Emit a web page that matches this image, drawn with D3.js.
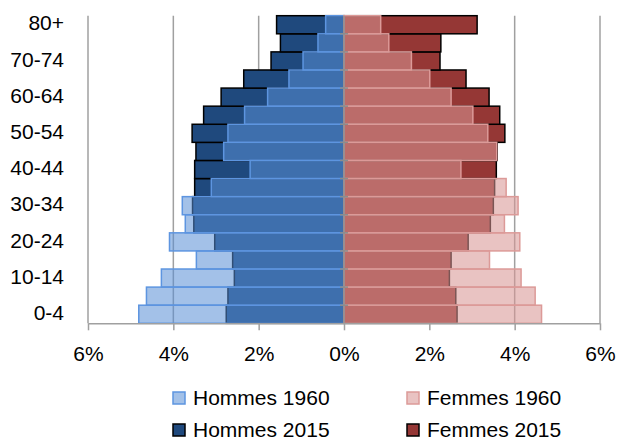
<!DOCTYPE html>
<html>
<head>
<meta charset="utf-8">
<script src="https://cdn.jsdelivr.net/npm/d3@7"></script>
<style>
  body { margin: 0; background: #fff; }
  text { font-family: "Liberation Sans", Arial, sans-serif; fill: #000; }
</style>
</head>
<body>
<div id="chart"></div>
<script>
// age groups, bottom to top
const ages = ["0-4", "5-9", "10-14", "15-19", "20-24", "25-29", "30-34", "35-39",
  "40-44", "45-49", "50-54", "55-59", "60-64", "65-69", "70-74", "75-79", "80+"];

// share of total population, in %
const hommes1960 = [4.81, 4.63, 4.28, 3.46, 4.09, 3.72, 3.79, 3.11, 2.20, 2.82, 2.72, 2.33, 1.79, 1.29, 0.96, 0.61, 0.43];
const hommes2015 = [2.76, 2.72, 2.57, 2.61, 3.03, 3.52, 3.55, 3.50, 3.50, 3.47, 3.56, 3.29, 2.88, 2.35, 1.71, 1.49, 1.58];
const femmes1960 = [4.63, 4.48, 4.15, 3.41, 4.12, 3.76, 4.08, 3.80, 2.74, 3.58, 3.37, 3.02, 2.51, 2.01, 1.58, 1.05, 0.86];
const femmes2015 = [2.65, 2.62, 2.47, 2.51, 2.91, 3.43, 3.50, 3.53, 3.57, 3.59, 3.77, 3.65, 3.40, 2.86, 2.25, 2.27, 3.12];

const xTicks = [-6, -4, -2, 0, 2, 4, 6];

const width = 617;
const height = 439;

const svg = d3.select("#chart")
  .append("svg")
  .attr("width", width)
  .attr("height", height);

const x = d3.scaleLinear().domain([-6, 6]).range([88, 600]);
const y = d3.scaleBand().domain(ages.slice().reverse()).range([15.7, 323.3]).padding(0);

// vertical grid lines
svg.append("g")
  .selectAll("line")
  .data(xTicks.filter(d => d !== 0))
  .enter()
  .append("line")
  .attr("x1", d => x(d))
  .attr("x2", d => x(d))
  .attr("y1", y.range()[0])
  .attr("y2", y.range()[1])
  .attr("stroke", "#a0a0a0")
  .attr("stroke-width", 1.5);

// one series of bars; side -1 = men (left), 1 = women (right)
function drawBars(values, side, fill, stroke, opacity) {
  svg.append("g")
    .selectAll("rect")
    .data(values)
    .enter()
    .append("rect")
    .attr("x", d => side < 0 ? x(-d) : x(0))
    .attr("y", (d, i) => y(ages[i]))
    .attr("width", d => x(d) - x(0))
    .attr("height", y.bandwidth())
    .attr("fill", fill)
    .attr("fill-opacity", opacity)
    .attr("stroke", stroke)
    .attr("stroke-width", 1.5);
}

// 2015 first (opaque), 1960 on top (see-through)
drawBars(hommes2015, -1, "#1f497d", "#000", 1);
drawBars(femmes2015, 1, "#953735", "#000", 1);
drawBars(hommes1960, -1, "rgb(88,142,213)", "#5d95e0", 0.55);
drawBars(femmes1960, 1, "rgb(216,150,148)", "#dc9a98", 0.57);

// centre axis with ticks between the age groups
const centre = svg.append("g");
centre.append("line")
  .attr("x1", x(0)).attr("x2", x(0))
  .attr("y1", y.range()[0]).attr("y2", y.range()[1])
  .attr("stroke", "#8c8c8c")
  .attr("stroke-width", 1.5);
centre.selectAll(".tk")
  .data(ages.slice(0, -1))
  .enter()
  .append("line")
  .attr("x1", x(0) - 4).attr("x2", x(0) + 4)
  .attr("y1", d => y(d)).attr("y2", d => y(d))
  .attr("stroke", "#8c8c8c")
  .attr("stroke-width", 1.5);

// age labels, every other group, on the left
const yAxis = svg.append("g")
  .attr("transform", "translate(67,0)")
  .call(d3.axisLeft(y).tickValues(ages.filter((a, i) => i % 2 === 0)).tickSize(0).tickPadding(3));
yAxis.select(".domain").remove();
yAxis.selectAll("text").style("font-size", "21px").attr("dy", "0.27em");

// bottom axis
const xAxis = svg.append("g")
  .attr("transform", `translate(0,${y.range()[1]})`)
  .call(d3.axisBottom(x).tickValues(xTicks).tickFormat(d => Math.abs(d) + "%").tickSize(7).tickSizeOuter(0).tickPadding(16));
xAxis.select(".domain").attr("stroke", "#a0a0a0").attr("stroke-width", 1.5);
xAxis.selectAll(".tick line").attr("stroke", "#a0a0a0").attr("stroke-width", 1.5);
xAxis.selectAll("text").style("font-size", "21px");

// legend
const legendItems = [
  { label: "Hommes 1960", fill: "#a3c1e8", stroke: "#5d95e0", col: 0, row: 0 },
  { label: "Femmes 1960", fill: "#e9c3c2", stroke: "#dc9a98", col: 1, row: 0 },
  { label: "Hommes 2015", fill: "#1f497d", stroke: "#000", col: 0, row: 1 },
  { label: "Femmes 2015", fill: "#953735", stroke: "#000", col: 1, row: 1 }
];

const legend = svg.append("g")
  .selectAll("g")
  .data(legendItems)
  .enter()
  .append("g")
  .attr("transform", d => `translate(${173 + d.col * 234},${392 + d.row * 32})`);

legend.append("rect")
  .attr("width", 12)
  .attr("height", 12)
  .attr("fill", d => d.fill)
  .attr("stroke", d => d.stroke)
  .attr("stroke-width", 1.5);

legend.append("text")
  .attr("x", 20)
  .attr("y", 12.5)
  .style("font-size", "21px")
  .text(d => d.label);
</script>
</body>
</html>
